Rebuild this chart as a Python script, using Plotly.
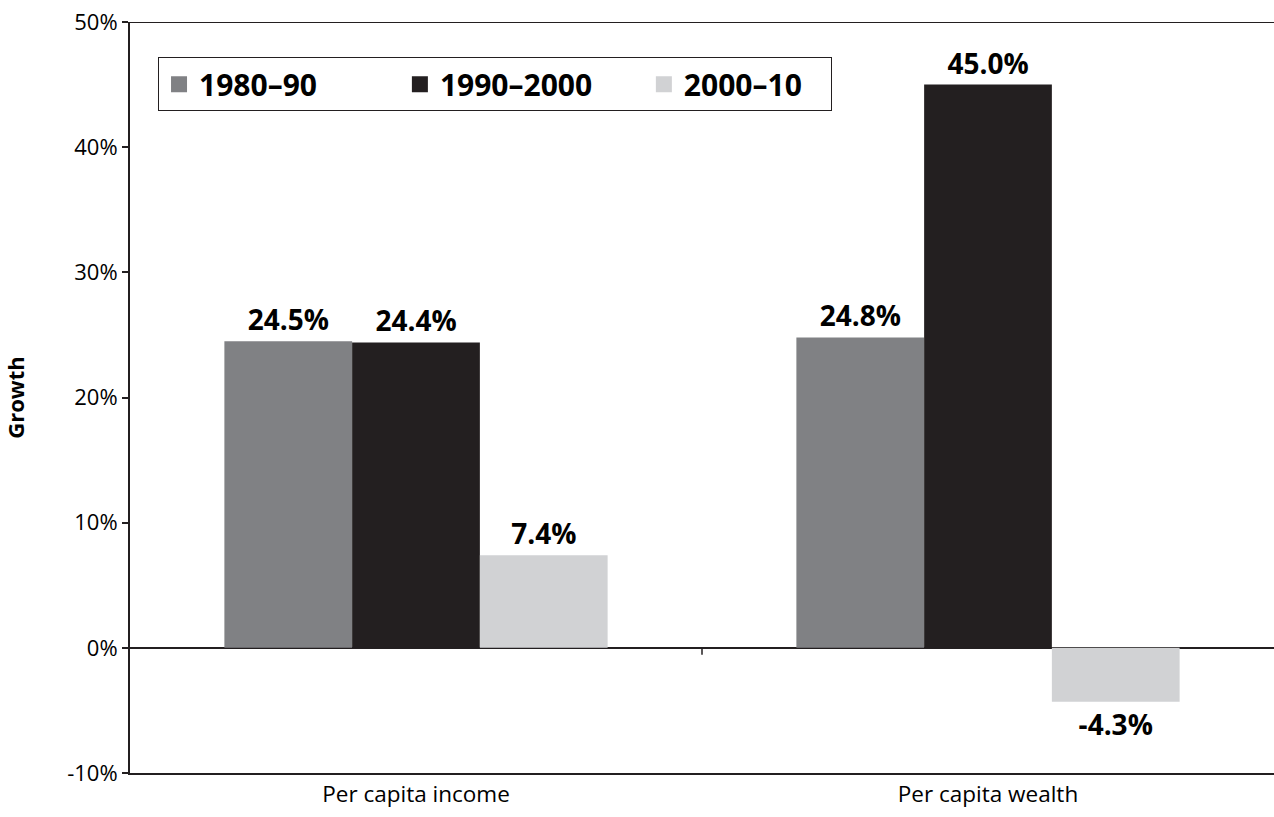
import plotly.graph_objects as go

categories = ["Per capita income", "Per capita wealth"]
series_names = ["1980–90", "1990–2000", "2000–10"]
values_1980_90 = [24.5, 24.8]
values_1990_2000 = [24.4, 45.0]
values_2000_10 = [7.4, -4.3]
series_values = [values_1980_90, values_1990_2000, values_2000_10]
colors = ["#808184", "#231f20", "#d1d2d4"]
tick_vals = [-10, 0, 10, 20, 30, 40, 50]
tick_text = ["-10%", "0%", "10%", "20%", "30%", "40%", "50%"]

FONT = "Open Sans"
DARK = "#231f20"
NB = "\u00a0"
legend_pad = [10, 6, 3]

fig = go.Figure()
for name, vals, col in zip(series_names, series_values, colors):
    fig.add_trace(go.Bar(
        x=categories, y=vals, name=name, showlegend=False, legendgroup=name,
        marker=dict(color=col, line=dict(width=0)),
        text=[f"{v:.1f}%" for v in vals],
        textposition="outside",
        textfont=dict(family=FONT, size=28, color="#000000", weight="bold"),
        cliponaxis=False,
    ))
# legend entries with larger square swatches
for name, col, pad in zip(series_names, colors, legend_pad):
    fig.add_trace(go.Scatter(
        x=[None], y=[None], mode="markers", name=name + NB * pad, legendgroup=name,
        marker=dict(symbol="square", size=22, color=col, line=dict(width=0)),
        showlegend=True, hoverinfo="skip",
    ))

fig.update_layout(
    width=1274, height=817,
    margin=dict(l=130, r=0, t=22, b=44),
    paper_bgcolor="white", plot_bgcolor="white",
    barmode="group", bargap=0.33, bargroupgap=0,
    font=dict(family=FONT, color="#000000"),
    showlegend=True,
    legend=dict(
        orientation="h", x=0.0245, y=0.953, xanchor="left", yanchor="top",
        bordercolor=DARK, borderwidth=1, bgcolor="white",
        font=dict(family=FONT, size=30, color="#000000", weight="bold"),
        traceorder="normal", itemsizing="trace",
    ),
    xaxis=dict(
        showline=True, linecolor=DARK, linewidth=2,
        ticks="", showgrid=False,
        tickfont=dict(family=FONT, size=22.5, color="#000000"),
        range=[-0.5, 1.5],
    ),
    yaxis=dict(
        range=[-10, 50], tickvals=tick_vals, ticktext=tick_text,
        showline=True, linecolor=DARK, linewidth=2,
        ticks="outside", ticklen=6, tickwidth=1.5, tickcolor=DARK,
        showgrid=False, zeroline=True, zerolinecolor=DARK, zerolinewidth=2,
        tickfont=dict(family=FONT, size=22, color="#000000"),
        title=dict(text="<b>Growth</b>", font=dict(family=FONT, size=22, color="#000000"), standoff=48),
    ),
    shapes=[
        dict(type="line", xref="paper", yref="y", x0=0, x1=1, y0=50, y1=50,
             line=dict(color=DARK, width=2)),
        dict(type="line", xref="x", yref="y", x0=0.5, x1=0.5, ysizemode="pixel",
             yanchor=0, y0=0, y1=-7, line=dict(color=DARK, width=1.5)),
    ],
)

fig.write_html("out.html", config={"displayModeBar": False},
               post_script="document.body.style.margin='0';")
